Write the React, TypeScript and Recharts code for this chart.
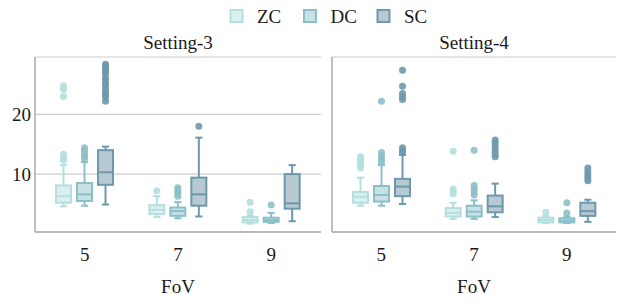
import { ComposedChart, Bar, XAxis, YAxis, CartesianGrid } from "recharts";

const FONT = "Liberation Serif, DejaVu Serif, serif";
const FS = 19;
const INK = "#1a1a1a";

const FOV = ["5", "7", "9"];
const Y_TICKS = [10, 20];
const SERIES = ["ZC", "DC", "SC"];

const STROKE: Record<string, string> = { ZC: "#b4dfdf", DC: "#8cc0c8", SC: "#6e98ab" };
const FILL: Record<string, string> = { ZC: "#dcefef", DC: "#c8e1e4", SC: "#b7cad4" };

// box stats per FoV: [min, q1, median, q3, max]
const S3_ZC = [[4.6, 5.2, 6.3, 8.1, 11.5], [2.8, 3.3, 4.0, 4.8, 6.3], [1.7, 1.9, 2.3, 2.8, 3.0]];
const S3_DC = [[4.7, 5.5, 6.6, 8.5, 12.0], [2.6, 3.0, 3.8, 4.4, 5.3], [1.8, 2.0, 2.3, 2.7, 3.5]];
const S3_SC = [[4.9, 8.2, 10.3, 14.0, 14.6], [2.9, 4.7, 6.6, 9.4, 16.1], [2.1, 4.2, 5.1, 10.0, 11.5]];
const S4_ZC = [[4.7, 5.2, 6.2, 7.0, 9.4], [2.5, 2.9, 3.5, 4.3, 5.2], [1.8, 1.9, 2.3, 2.7, 3.0]];
const S4_DC = [[4.7, 5.4, 6.5, 8.0, 11.5], [2.5, 2.9, 3.7, 4.7, 5.6], [1.8, 1.9, 2.2, 2.6, 2.9]];
const S4_SC = [[5.0, 6.3, 7.9, 9.2, 13.2], [2.8, 3.6, 4.6, 6.4, 8.4], [2.0, 3.0, 3.8, 5.2, 5.7]];

// outliers per FoV
const S3_ZC_OUT = [[12.3, 12.8, 13.3, 23.0, 24.2, 24.8], [7.2], [3.7, 5.3]];
const S3_DC_OUT = [[12.6, 13.0, 13.5, 14.0, 14.4], [6.3, 6.8, 7.3, 7.7], [4.8]];
const S3_SC_OUT = [
  [22.2, 22.9, 23.4, 23.7, 24.3, 24.9, 25.3, 25.8, 26.2, 26.9, 27.3, 27.7, 28.1, 28.4],
  [18.0],
  [],
];
const S4_ZC_OUT = [[11.0, 11.5, 12.0, 12.5, 12.9], [6.7, 7.1, 7.5, 13.8], [3.6]];
const S4_DC_OUT = [[12.0, 12.5, 13.0, 13.6, 22.2], [6.5, 7.1, 7.6, 8.1, 14.0], [3.5, 5.2]];
const S4_SC_OUT = [
  [13.6, 14.0, 14.4, 22.5, 23.0, 23.5, 24.7, 27.4],
  [12.9, 13.4, 14.0, 14.6, 15.2, 15.7],
  [8.9, 9.4, 9.9, 10.4, 11.0],
];

function buildRows(stats: number[][][], outs: number[][][]) {
  return FOV.map((f, i) => {
    const row: any = { fov: f };
    SERIES.forEach((s, j) => {
      row[s] = [stats[j][i][1], stats[j][i][3]];
      row[s + "_stats"] = stats[j][i];
      row[s + "_out"] = outs[j][i];
    });
    return row;
  });
}

const DATA_S3 = buildRows([S3_ZC, S3_DC, S3_SC], [S3_ZC_OUT, S3_DC_OUT, S3_SC_OUT]);
const DATA_S4 = buildRows([S4_ZC, S4_DC, S4_SC], [S4_ZC_OUT, S4_DC_OUT, S4_SC_OUT]);

// box + whiskers + outliers, drawn from the bar's own q1..q3 rectangle
const boxShape = (s: string) => (props: any) => {
  const { x, y, width, height, payload } = props;
  if (!payload) return <g />;
  const [lo, q1, med, q3, hi] = payload[s + "_stats"];
  const top = Math.min(y, y + height);
  const bot = Math.max(y, y + height);
  const k = (bot - top) / (q3 - q1);
  const py = (v: number) => bot - (v - q1) * k;
  const cx = x + width / 2;
  const cap = width * 0.24;
  const c = STROKE[s];
  return (
    <g>
      <line x1={cx} x2={cx} y1={py(hi)} y2={top} stroke={c} strokeWidth={2} />
      <line x1={cx} x2={cx} y1={bot} y2={py(lo)} stroke={c} strokeWidth={2} />
      <line x1={cx - cap} x2={cx + cap} y1={py(hi)} y2={py(hi)} stroke={c} strokeWidth={2} />
      <line x1={cx - cap} x2={cx + cap} y1={py(lo)} y2={py(lo)} stroke={c} strokeWidth={2} />
      <rect x={x} y={top} width={width} height={bot - top} fill={FILL[s]} stroke={c} strokeWidth={2} />
      <line x1={x} x2={x + width} y1={py(med)} y2={py(med)} stroke={c} strokeWidth={2} />
      {payload[s + "_out"].map((v: number, i: number) => (
        <circle key={i} cx={cx} cy={py(v)} r={3.5} fill={c} fillOpacity={0.9} />
      ))}
    </g>
  );
};

const AXIS = { stroke: "#aaaaaa", strokeWidth: 1.5 };
const TICK = { fill: INK, fontSize: FS, style: { fontFamily: FONT } };

function Panel({ data, left, width, showY }: { data: any[]; left: number; width: number; showY: boolean }) {
  return (
    <div style={{ position: "absolute", left, top: 0 }}>
      <ComposedChart
        width={width}
        height={299}
        data={data}
        margin={{ top: 57, right: 1, bottom: 0, left: 0 }}
        barSize={15}
        barGap={6}
        style={{ fontFamily: FONT }}
      >
        <CartesianGrid vertical={false} stroke="#cccccc" strokeWidth={1.2} />
        <XAxis
          dataKey="fov"
          height={67}
          tickSize={0}
          tickMargin={16}
          axisLine={AXIS}
          tick={TICK}
          padding={{ left: 3, right: 3 }}
          label={{ value: "FoV", position: "insideBottom", offset: 6, fill: INK, fontSize: FS, style: { fontFamily: FONT } }}
        />
        <YAxis
          type="number"
          domain={[0.3, 29.6]}
          ticks={Y_TICKS}
          width={showY ? 35 : 11}
          tick={showY ? TICK : false}
          tickSize={0}
          tickMargin={4}
          axisLine={AXIS}
          allowDataOverflow
        />
        {SERIES.map((s) => (
          <Bar key={s} dataKey={s} shape={boxShape(s)} isAnimationActive={false} />
        ))}
      </ComposedChart>
    </div>
  );
}

export default function App() {
  return (
    <div
      style={{
        position: "absolute", left: 0, top: 0, width: 617, height: 299,
        background: "#fff", overflow: "hidden", fontFamily: FONT,
      }}
    >
      <Panel data={DATA_S3} left={0} width={322} showY />
      <Panel data={DATA_S4} left={321} width={296} showY={false} />
      <svg width={617} height={57} style={{ position: "absolute", left: 0, top: 0, fontFamily: FONT }}>
        {SERIES.map((s, i) => (
          <g key={s}>
            <rect x={230.5 + i * 73.5} y={10} width={12} height={12} fill={FILL[s]} stroke={STROKE[s]} strokeWidth={2} />
            <text x={257 + i * 73.5} y={23} fill={INK} fontSize={FS}>{s}</text>
          </g>
        ))}
        <text x={178} y={49} textAnchor="middle" fill={INK} fontSize={FS}>Setting-3</text>
        <text x={474} y={49} textAnchor="middle" fill={INK} fontSize={FS}>Setting-4</text>
      </svg>
    </div>
  );
}
